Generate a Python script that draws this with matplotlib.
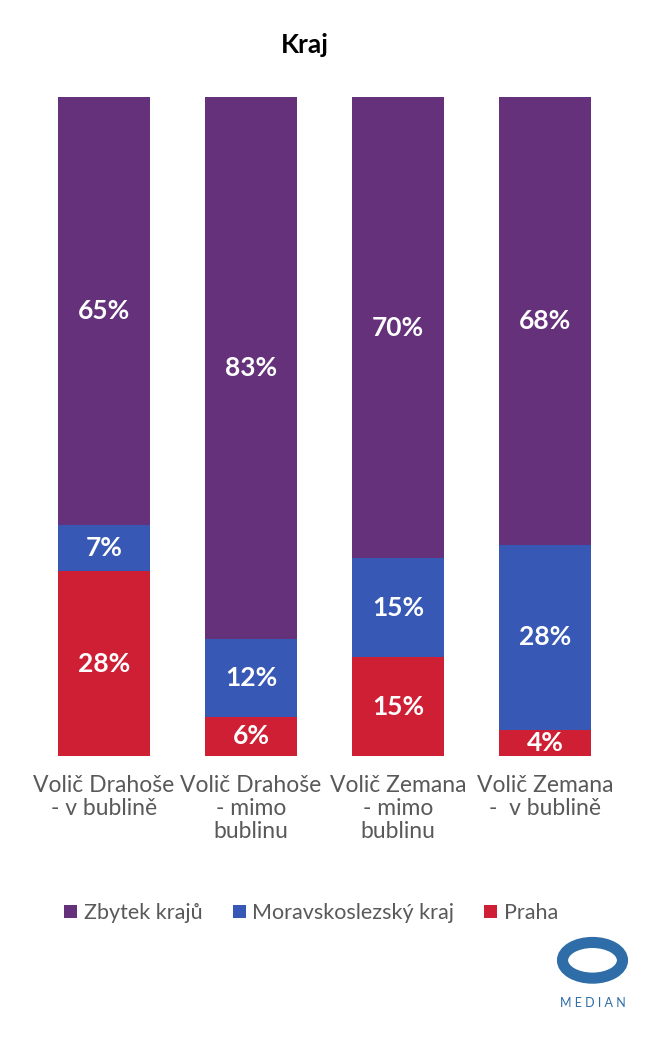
import numpy as np
import matplotlib.pyplot as plt
from matplotlib.patches import Ellipse

plt.rcParams['font.family'] = ['Lato', 'DejaVu Sans']

categories = ['Volič Drahoše\n- v bublině', 'Volič Drahoše\n- mimo\nbublinu',
              'Volič Zemana\n- mimo\nbublinu', 'Volič Zemana\n-  v bublině']
praha = np.array([28, 6, 15, 4])
moravskoslezsky = np.array([7, 12, 15, 28])
zbytek = np.array([65, 83, 70, 68])

# 100% stacked, like in Excel
total = praha + moravskoslezsky + zbytek
p = praha / total * 100
m = moravskoslezsky / total * 100
z = zbytek / total * 100

c_purple = '#64317A'
c_blue = '#3758B4'
c_red = '#CF1F35'

fig = plt.figure(figsize=(6.55, 10.38), dpi=100)
ax = fig.add_axes([30.5 / 655, 282 / 1038, 588 / 655, 659 / 1038])

x = np.arange(len(categories))
w = 0.626
b1 = ax.bar(x, p, w, color=c_red, label='Praha')
b2 = ax.bar(x, m, w, bottom=p, color=c_blue, label='Moravskoslezský kraj')
b3 = ax.bar(x, z, w, bottom=p + m, color=c_purple, label='Zbytek krajů')

for vals, bottoms, raw in [(p, 0, praha), (m, p, moravskoslezsky), (z, p + m, zbytek)]:
    for i in range(len(x)):
        b = bottoms if np.isscalar(bottoms) else bottoms[i]
        ax.text(x[i], b + vals[i] / 2, f'{raw[i]}%', ha='center', va='center',
                color='white', fontsize=19, fontweight='bold')

ax.set_xlim(-0.5, 3.5)
ax.set_ylim(0, 100)
ax.set_xticks(x)
ax.set_xticklabels(categories, fontsize=16.5, color='#595959', linespacing=1.1)
ax.tick_params(axis='x', length=0, pad=14)
ax.set_yticks([])
for s in ax.spines.values():
    s.set_visible(False)

fig.text(0.466, 1 - 45 / 1038, 'Kraj', ha='center', va='center', fontsize=19, fontweight='bold')

handles = [b3, b2, b1]
fig.legend(handles, [h.get_label() for h in handles], loc='center', ncol=3,
           bbox_to_anchor=(0.475, 1 - 913 / 1038), frameon=False, fontsize=15.5,
           handlelength=0.6, handleheight=0.6, handletextpad=0.3, columnspacing=1.4,
           labelcolor='#595959')

# logo
lax = fig.add_axes([555 / 655, 25 / 1038, 75 / 655, 85 / 1038])
lax.set_xlim(0, 1)
lax.set_ylim(0, 1)
lax.axis('off')
lax.add_patch(Ellipse((0.5, 0.62), 0.8, 0.42, fill=False, lw=8, ec='#2E6DA8'))
lax.text(0.5, 0.12, 'M E D I A N', ha='center', va='center', fontsize=9, color='#2E6DA8')

fig.savefig('out.png', dpi=100)
